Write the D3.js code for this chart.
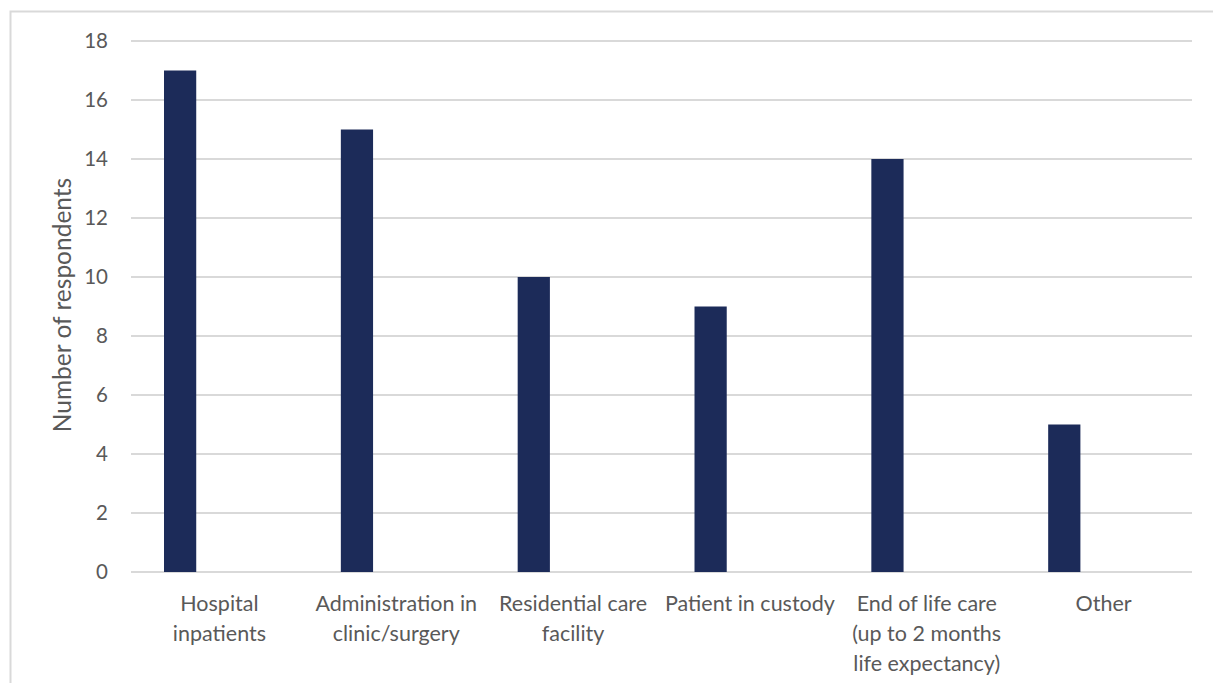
<!DOCTYPE html>
<html>
<head>
<meta charset="utf-8">
<script src="https://cdn.jsdelivr.net/npm/d3@7"></script>
<style>
  html, body { margin: 0; padding: 0; background: #fff; }
  svg { display: block; }
  text { font-family: Lato, "Open Sans", sans-serif; fill: #595959; }
</style>
</head>
<body>
<svg id="chart" width="1213" height="683"></svg>
<script>
// Settings in which respondents reported the activity
const categories = [
  "Hospital inpatients",
  "Administration in clinic/surgery",
  "Residential care facility",
  "Patient in custody",
  "End of life care (up to 2 months life expectancy)",
  "Other"
];
// Axis label lines for each category (wrapped as in the chart)
const categoryLines = [
  ["Hospital", "inpatients"],
  ["Administration in", "clinic/surgery"],
  ["Residential care", "facility"],
  ["Patient in custody"],
  ["End of life care", "(up to 2 months", "life expectancy)"],
  ["Other"]
];
const respondents = [17, 15, 10, 9, 14, 5];
const yTicks = [0, 2, 4, 6, 8, 10, 12, 14, 16, 18];
const yTitle = "Number of respondents";

const svg = d3.select("#chart");
const W = 1213, H = 683;
const plot = { left: 131, right: 1192, top: 41, bottom: 572 };

// chart area frame
svg.append("rect")
  .attr("x", 10.5).attr("y", 11.5)
  .attr("width", W + 20).attr("height", H + 20)
  .attr("fill", "#fff")
  .attr("stroke", "#d9d9d9").attr("stroke-width", 2);

const x0 = d3.scaleBand()
  .domain(categories)
  .range([plot.left, plot.right])
  .paddingInner(0).paddingOuter(0);

// series slot inside each category (second slot is empty)
const x1 = d3.scaleBand()
  .domain(["respondents", "empty"])
  .range([0, x0.bandwidth()])
  .paddingInner(0.59).paddingOuter(0.42);

const y = d3.scaleLinear().domain([0, 18]).range([plot.bottom, plot.top]);

// gridlines
svg.append("g")
  .selectAll("line")
  .data(yTicks)
  .join("line")
  .attr("x1", plot.left).attr("x2", plot.right)
  .attr("y1", d => y(d)).attr("y2", d => y(d))
  .attr("stroke", "#d9d9d9").attr("stroke-width", 1.8);

// y tick labels
svg.append("g")
  .selectAll("text")
  .data(yTicks)
  .join("text")
  .attr("x", 108).attr("y", d => y(d))
  .attr("dy", "0.36em")
  .attr("text-anchor", "end")
  .attr("font-size", 20.5)
  .text(d => d);

// bars
svg.append("g")
  .selectAll("rect")
  .data(respondents)
  .join("rect")
  .attr("x", (d, i) => x0(categories[i]) + x1("respondents"))
  .attr("width", x1.bandwidth())
  .attr("y", d => y(d))
  .attr("height", d => y(0) - y(d))
  .attr("fill", "#1c2b59");

// category labels
const labels = svg.append("g")
  .selectAll("text")
  .data(categories)
  .join("text")
  .attr("text-anchor", "middle")
  .attr("font-size", 21.5)
  .attr("transform", d => `translate(${x0(d) + x0.bandwidth() / 2},611)`);
labels.selectAll("tspan")
  .data((d, i) => categoryLines[i])
  .join("tspan")
  .attr("x", 0)
  .attr("y", (d, j) => j * 29.8)
  .text(d => d);

// y axis title
svg.append("text")
  .attr("transform", "translate(71,305) rotate(-90)")
  .attr("text-anchor", "middle")
  .attr("font-size", 24.5)
  .text(yTitle);
</script>
</body>
</html>
